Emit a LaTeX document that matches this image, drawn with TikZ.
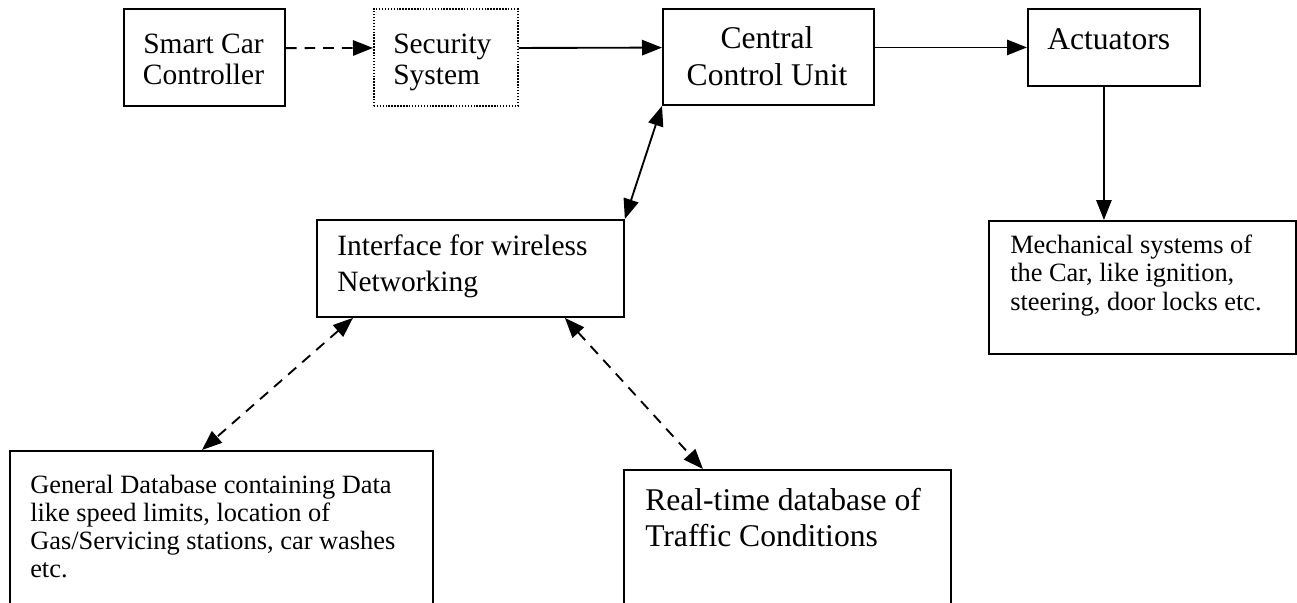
\documentclass[tikz,border=0pt]{standalone}
\usepackage{fontspec}
\setmainfont{Liberation Serif}
\usepackage{tikz}
\usetikzlibrary{arrows.meta,calc,positioning}

\tikzset{
    box/.style={draw, line width=1.4pt, inner sep=0pt, anchor=north west},
    dotbox/.style={draw, line width=1.2pt, dash pattern=on 1.1pt off 1.1pt, inner sep=0pt, anchor=north west},
    txt/.style={inner sep=0pt, align=left, anchor=base west},
    link/.style={line width=1.4pt, -{Triangle[length=15pt,width=11.5pt]}},
    twolink/.style={line width=1.4pt, {Triangle[length=15pt,width=11.5pt]}-{Triangle[length=15pt,width=11.5pt]}},
    dashlink/.style={line width=1.4pt, dash pattern=on 8pt off 6pt}
}

\begin{document}
\begin{tikzpicture}[x=0.75pt,y=-0.75pt]
    \useasboundingbox (0,0) rectangle (1297,603);

    % boxes
    \node[box, minimum width=120.75pt, minimum height=72.75pt] (scc) at (123,8) {};
    \node[dotbox, minimum width=108pt, minimum height=72.75pt] (sec) at (373,8) {};
    \node[box, minimum width=158.25pt, minimum height=72pt] (ccu) at (662,8) {};
    \node[box, minimum width=129pt, minimum height=57.75pt] (act) at (1027,8) {};
    \node[box, minimum width=230.25pt, minimum height=99.75pt] (mech) at (988,220) {};
    \node[box, minimum width=230.25pt, minimum height=72.75pt] (intf) at (316,219) {};
    \node[box, minimum width=317.25pt, minimum height=142.5pt] (gdb) at (9,450) {};
    \node[box, minimum width=245.25pt, minimum height=128pt] (rtd) at (623,469) {};

    % texts (placed by the baseline of their last line)
    \node[txt, anchor=base, align=center, font=\fontsize{22.1}{23.25}\selectfont] (scc-t) at (203.5,84) {Smart Car\\Controller};
    \node[txt, font=\fontsize{22.1}{23.25}\selectfont] (sec-t) at (393,84) {Security\\System};
    \node[txt, anchor=base, align=center, font=\fontsize{23.7}{27.75}\selectfont] (ccu-t) at (767,85) {Central\\Control Unit};
    \node[txt, font=\fontsize{23.7}{27}\selectfont] (act-t) at (1047,50) {Actuators};
    \node[txt, font=\fontsize{19.8}{21.3}\selectfont] (mech-t) at (1010,310) {Mechanical systems of\\the Car, like ignition,\\steering, door locks etc.};
    \node[txt, font=\fontsize{22.1}{27}\selectfont] (intf-t) at (337,291) {Interface for wireless\\Networking};
    \node[txt, font=\fontsize{19.8}{21}\selectfont] (gdb-t) at (30,577) {General Database containing Data\\like speed limits, location of\\Gas/Servicing stations, car washes\\etc.};
    \node[txt, font=\fontsize{23.7}{27}\selectfont] (rtd-t) at (645,546) {Real-time database of\\Traffic Conditions};

    % connectors
    \draw[link, dashlink] ([yshift=7pt]scc.east) -- ([yshift=7pt]sec.west);
    \draw[link] ([yshift=7pt]sec.east) -- ([yshift=7pt]ccu.west);
    \draw[link] (ccu.east |- act.west) -- (act.west);
    \draw[link] ([xshift=-7.5pt]act.south) -- ([xshift=-7.5pt]act.south |- mech.north);
    \draw[twolink] (ccu.south west) -- (intf.north east);
    \draw[twolink, dashlink] ([xshift=27.75pt]intf.south west) -- ([xshift=144.75pt]gdb.north west);
    \draw[twolink, dashlink] ([xshift=-45pt]intf.south east) -- ([xshift=60pt]rtd.north west);
\end{tikzpicture}
\end{document}
